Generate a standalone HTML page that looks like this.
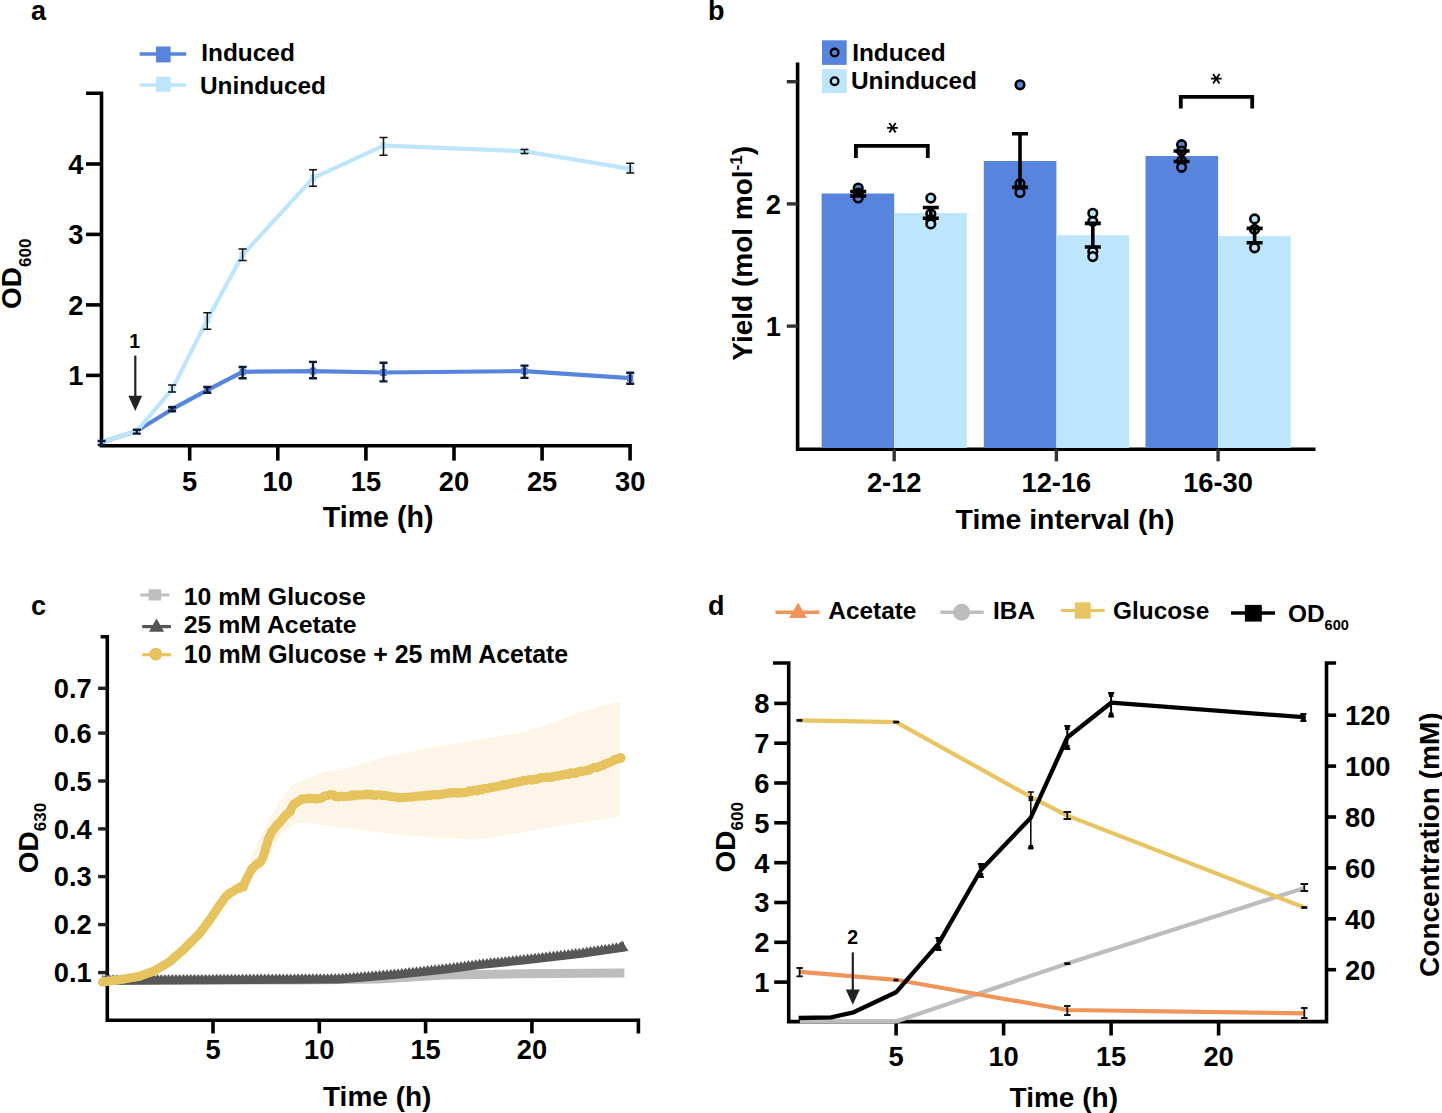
<!DOCTYPE html>
<html><head><meta charset="utf-8"><style>
html,body{margin:0;padding:0;background:#fff;width:1442px;height:1113px;overflow:hidden}
svg{display:block;font-family:"Liberation Sans",sans-serif}
</style></head><body>
<svg width="1442" height="1113" viewBox="0 0 1442 1113">
<text x="31.0" y="19.5" font-size="27" font-weight="bold" text-anchor="start" fill="#000" >a</text>
<path d="M86,93.2H101.5V445.8H630.1V460.6" stroke="#000" stroke-width="3.6" fill="none"/>
<line x1="86.0" y1="375.4" x2="101.5" y2="375.4" stroke="#000" stroke-width="3.6" stroke-linecap="butt"/>
<text x="83.5" y="385.2" font-size="27.3" font-weight="bold" text-anchor="end" fill="#000" >1</text>
<line x1="86.0" y1="304.9" x2="101.5" y2="304.9" stroke="#000" stroke-width="3.6" stroke-linecap="butt"/>
<text x="83.5" y="314.7" font-size="27.3" font-weight="bold" text-anchor="end" fill="#000" >2</text>
<line x1="86.0" y1="234.4" x2="101.5" y2="234.4" stroke="#000" stroke-width="3.6" stroke-linecap="butt"/>
<text x="83.5" y="244.2" font-size="27.3" font-weight="bold" text-anchor="end" fill="#000" >3</text>
<line x1="86.0" y1="164.0" x2="101.5" y2="164.0" stroke="#000" stroke-width="3.6" stroke-linecap="butt"/>
<text x="83.5" y="173.8" font-size="27.3" font-weight="bold" text-anchor="end" fill="#000" >4</text>
<line x1="189.7" y1="445.8" x2="189.7" y2="460.6" stroke="#000" stroke-width="3.6" stroke-linecap="butt"/>
<line x1="277.8" y1="445.8" x2="277.8" y2="460.6" stroke="#000" stroke-width="3.6" stroke-linecap="butt"/>
<line x1="365.9" y1="445.8" x2="365.9" y2="460.6" stroke="#000" stroke-width="3.6" stroke-linecap="butt"/>
<line x1="454.0" y1="445.8" x2="454.0" y2="460.6" stroke="#000" stroke-width="3.6" stroke-linecap="butt"/>
<line x1="542.1" y1="445.8" x2="542.1" y2="460.6" stroke="#000" stroke-width="3.6" stroke-linecap="butt"/>
<text x="189.7" y="491.2" font-size="27.3" font-weight="bold" text-anchor="middle" fill="#000" >5</text>
<text x="277.8" y="491.2" font-size="27.3" font-weight="bold" text-anchor="middle" fill="#000" >10</text>
<text x="365.9" y="491.2" font-size="27.3" font-weight="bold" text-anchor="middle" fill="#000" >15</text>
<text x="454.0" y="491.2" font-size="27.3" font-weight="bold" text-anchor="middle" fill="#000" >20</text>
<text x="542.1" y="491.2" font-size="27.3" font-weight="bold" text-anchor="middle" fill="#000" >25</text>
<text x="630.2" y="491.2" font-size="27.3" font-weight="bold" text-anchor="middle" fill="#000" >30</text>
<text x="322.8" y="526.6" font-size="28.6" font-weight="bold" text-anchor="start" fill="#000" >Time (h)</text>
<text transform="translate(21.3,309) rotate(-90)" font-size="28" font-weight="bold">OD<tspan font-size="17" dy="10">600</tspan></text>
<polyline points="101.6,442.3 136.8,431.0 172.1,409.2 207.3,390.1 242.6,371.8 313.0,371.1 383.5,372.5 524.5,371.1 630.2,378.2" fill="none" stroke="#5784dc" stroke-width="4.2" stroke-linejoin="round" stroke-linecap="butt"/>
<polyline points="101.6,442.3 136.8,431.0 172.1,389.4 207.3,319.7 242.6,254.9 313.0,178.1 383.5,145.7 524.5,151.3 630.2,168.9" fill="none" stroke="#bde6fd" stroke-width="4.2" stroke-linejoin="round" stroke-linecap="butt"/>
<rect x="168.9" y="405.7" width="6.4" height="7.0" fill="#5784dc"/>
<rect x="204.1" y="386.6" width="6.4" height="7.0" fill="#5784dc"/>
<rect x="239.4" y="368.3" width="6.4" height="7.0" fill="#5784dc"/>
<rect x="309.8" y="367.6" width="6.4" height="7.0" fill="#5784dc"/>
<rect x="380.3" y="369.0" width="6.4" height="7.0" fill="#5784dc"/>
<rect x="521.3" y="367.6" width="6.4" height="7.0" fill="#5784dc"/>
<rect x="627.0" y="374.7" width="6.4" height="7.0" fill="#5784dc"/>
<rect x="168.9" y="385.9" width="6.4" height="7.0" fill="#bde6fd"/>
<rect x="204.1" y="316.2" width="6.4" height="7.0" fill="#bde6fd"/>
<rect x="239.4" y="251.4" width="6.4" height="7.0" fill="#bde6fd"/>
<rect x="309.8" y="174.6" width="6.4" height="7.0" fill="#bde6fd"/>
<rect x="380.3" y="142.2" width="6.4" height="7.0" fill="#bde6fd"/>
<rect x="521.3" y="147.8" width="6.4" height="7.0" fill="#bde6fd"/>
<rect x="627.0" y="165.4" width="6.4" height="7.0" fill="#bde6fd"/>
<path d="M168.1,385.0H176.1M172.1,385.0V392.0M168.1,392.0H176.1" stroke="#111" stroke-width="1.5" fill="none"/>
<path d="M203.3,312.8H211.3M207.3,312.8V329.2M203.3,329.2H211.3" stroke="#111" stroke-width="1.5" fill="none"/>
<path d="M238.6,249.0H246.6M242.6,249.0V260.4M238.6,260.4H246.6" stroke="#111" stroke-width="1.5" fill="none"/>
<path d="M309.0,169.8H317.0M313.0,169.8V186.2M309.0,186.2H317.0" stroke="#111" stroke-width="1.5" fill="none"/>
<path d="M379.5,137.5H387.5M383.5,137.5V155.3M379.5,155.3H387.5" stroke="#111" stroke-width="1.5" fill="none"/>
<path d="M520.5,149.4H528.5M524.5,149.4V153.4M520.5,153.4H528.5" stroke="#111" stroke-width="1.5" fill="none"/>
<path d="M626.2,163.2H634.2M630.2,163.2V173.1M626.2,173.1H634.2" stroke="#111" stroke-width="1.5" fill="none"/>
<path d="M132.8,429.8H140.8M136.8,429.8V433.6M132.8,433.6H140.8" stroke="#0d1a3a" stroke-width="2.4" fill="none"/>
<path d="M168.1,407.2H176.1M172.1,407.2V411.0M168.1,411.0H176.1" stroke="#0d1a3a" stroke-width="2.4" fill="none"/>
<path d="M203.3,387.0H211.3M207.3,387.0V392.8M203.3,392.8H211.3" stroke="#0d1a3a" stroke-width="2.4" fill="none"/>
<path d="M238.6,366.9H246.6M242.6,366.9V378.2M238.6,378.2H246.6" stroke="#0d1a3a" stroke-width="2.4" fill="none"/>
<path d="M309.0,361.9H317.0M313.0,361.9V378.2M309.0,378.2H317.0" stroke="#0d1a3a" stroke-width="2.4" fill="none"/>
<path d="M379.5,362.8H387.5M383.5,362.8V381.4M379.5,381.4H387.5" stroke="#0d1a3a" stroke-width="2.4" fill="none"/>
<path d="M520.5,365.6H528.5M524.5,365.6V377.9M520.5,377.9H528.5" stroke="#0d1a3a" stroke-width="2.4" fill="none"/>
<path d="M626.2,372.7H634.2M630.2,372.7V383.8M626.2,383.8H634.2" stroke="#0d1a3a" stroke-width="2.4" fill="none"/>
<path d="M97.6,441.0H105.6M101.6,441.0V445.0M97.6,445.0H105.6" stroke="#0d1a3a" stroke-width="2.4" fill="none"/>
<text x="134.6" y="348.0" font-size="19.5" font-weight="bold" text-anchor="middle" fill="#000" >1</text>
<line x1="135.3" y1="355.6" x2="135.3" y2="398.0" stroke="#222" stroke-width="2.2" stroke-linecap="butt"/>
<polygon points="128.3,395.8 142.1,395.8 135.3,411.0" fill="#222"/>
<line x1="139.6" y1="54.0" x2="186.2" y2="54.0" stroke="#5784dc" stroke-width="3.6" stroke-linecap="butt"/>
<rect x="156.0" y="46.5" width="14.6" height="15.9" fill="#5784dc"/>
<text x="201.3" y="61.1" font-size="24.4" font-weight="bold" text-anchor="start" fill="#000" >Induced</text>
<line x1="139.6" y1="85.0" x2="186.2" y2="85.0" stroke="#bde6fd" stroke-width="3.6" stroke-linecap="butt"/>
<rect x="156.0" y="76.7" width="14.6" height="15.1" fill="#bde6fd"/>
<text x="200.0" y="93.8" font-size="24.4" font-weight="bold" text-anchor="start" fill="#000" >Uninduced</text>
<text x="708.0" y="19.5" font-size="27" font-weight="bold" text-anchor="start" fill="#000" >b</text>
<path d="M797.6,62.5V449.2H1315.5" stroke="#000" stroke-width="3.6" fill="none"/>
<line x1="786.8" y1="326.1" x2="797.5" y2="326.1" stroke="#333" stroke-width="3.4" stroke-linecap="butt"/>
<line x1="786.8" y1="203.9" x2="797.5" y2="203.9" stroke="#333" stroke-width="3.4" stroke-linecap="butt"/>
<line x1="786.8" y1="81.7" x2="797.5" y2="81.7" stroke="#333" stroke-width="3.4" stroke-linecap="butt"/>
<text x="781.0" y="335.9" font-size="27.3" font-weight="bold" text-anchor="end" fill="#000" >1</text>
<text x="781.0" y="213.7" font-size="27.3" font-weight="bold" text-anchor="end" fill="#000" >2</text>
<rect x="821.6" y="193.5" width="72.6" height="254.5" fill="#5784dc"/>
<rect x="894.2" y="213.0" width="72.6" height="235.0" fill="#bde6fd"/>
<rect x="983.8" y="161.0" width="72.6" height="287.0" fill="#5784dc"/>
<rect x="1056.4" y="235.2" width="72.6" height="212.8" fill="#bde6fd"/>
<rect x="1145.5" y="156.0" width="72.6" height="292.0" fill="#5784dc"/>
<rect x="1218.1" y="236.0" width="72.6" height="212.0" fill="#bde6fd"/>
<line x1="894.2" y1="449.2" x2="894.2" y2="461.3" stroke="#333" stroke-width="3.4" stroke-linecap="butt"/>
<text x="894.2" y="491.6" font-size="27.3" font-weight="bold" text-anchor="middle" fill="#000" >2-12</text>
<line x1="1056.4" y1="449.2" x2="1056.4" y2="461.3" stroke="#333" stroke-width="3.4" stroke-linecap="butt"/>
<text x="1056.4" y="491.6" font-size="27.3" font-weight="bold" text-anchor="middle" fill="#000" >12-16</text>
<line x1="1218.1" y1="449.2" x2="1218.1" y2="461.3" stroke="#333" stroke-width="3.4" stroke-linecap="butt"/>
<text x="1218.1" y="491.6" font-size="27.3" font-weight="bold" text-anchor="middle" fill="#000" >16-30</text>
<text x="955.6" y="528.5" font-size="28.4" font-weight="bold" text-anchor="start" fill="#000" >Time interval (h)</text>
<text transform="translate(751.5,360.7) rotate(-90)" font-size="28" font-weight="bold">Yield (mol mol<tspan font-size="17" dy="-10">-1</tspan><tspan dy="10">)</tspan></text>
<rect x="822.0" y="40.3" width="24.7" height="24.6" fill="#5784dc"/>
<circle cx="834.6" cy="52.5" r="3.8" fill="#5784dc" stroke="#000" stroke-width="2.4"/>
<rect x="822.0" y="69.2" width="24.7" height="23.9" fill="#bde6fd"/>
<circle cx="834.6" cy="81.2" r="3.8" fill="#bde6fd" stroke="#000" stroke-width="2.4"/>
<text x="852.2" y="61.1" font-size="24.4" font-weight="bold" text-anchor="start" fill="#000" >Induced</text>
<text x="851.0" y="89.3" font-size="24.4" font-weight="bold" text-anchor="start" fill="#000" >Uninduced</text>
<path d="M855.9,157.9V145.9H927.8V157.9" stroke="#000" stroke-width="3.8" fill="none"/>
<path d="M1180.8,108.5V96.8H1252.2V108.5" stroke="#000" stroke-width="3.8" fill="none"/>
<path d="M887.1,127.8H897.9M889.3,123.0L895.7,132.6M895.7,123.0L889.3,132.6" stroke="#000" stroke-width="1.8" fill="none"/>
<path d="M1210.9,78.7H1221.7M1213.1,73.9L1219.5,83.5M1219.5,73.9L1213.1,83.5" stroke="#000" stroke-width="1.8" fill="none"/>
<circle cx="858.2" cy="188.0" r="4.3" fill="#5784dc" stroke="#000" stroke-width="2.6"/>
<circle cx="858.2" cy="193.0" r="4.3" fill="#5784dc" stroke="#000" stroke-width="2.6"/>
<circle cx="858.2" cy="198.0" r="4.3" fill="#5784dc" stroke="#000" stroke-width="2.6"/>
<path d="M850.2,191.5H866.2M858.2,191.5V196.0M850.2,196.0H866.2" stroke="#000" stroke-width="3.6" fill="none"/>
<circle cx="930.8" cy="198.1" r="4.3" fill="#bde6fd" stroke="#000" stroke-width="2.6"/>
<circle cx="930.8" cy="213.8" r="4.3" fill="#bde6fd" stroke="#000" stroke-width="2.6"/>
<circle cx="930.8" cy="219.5" r="4.3" fill="#bde6fd" stroke="#000" stroke-width="2.6"/>
<circle cx="930.8" cy="223.9" r="4.3" fill="#bde6fd" stroke="#000" stroke-width="2.6"/>
<path d="M922.8,207.5H938.8M930.8,207.5V218.2M922.8,218.2H938.8" stroke="#000" stroke-width="3.6" fill="none"/>
<circle cx="1020.0" cy="84.8" r="4.3" fill="#5784dc" stroke="#000" stroke-width="2.6"/>
<circle cx="1020.0" cy="183.6" r="4.3" fill="#5784dc" stroke="#000" stroke-width="2.6"/>
<circle cx="1020.0" cy="192.5" r="4.3" fill="#5784dc" stroke="#000" stroke-width="2.6"/>
<path d="M1012.0,133.8H1028.0M1020.0,133.8V187.4M1012.0,187.4H1028.0" stroke="#000" stroke-width="3.6" fill="none"/>
<circle cx="1092.8" cy="213.3" r="4.3" fill="#bde6fd" stroke="#000" stroke-width="2.6"/>
<circle cx="1092.8" cy="221.4" r="4.3" fill="#bde6fd" stroke="#000" stroke-width="2.6"/>
<circle cx="1092.8" cy="251.6" r="4.3" fill="#bde6fd" stroke="#000" stroke-width="2.6"/>
<circle cx="1092.8" cy="256.6" r="4.3" fill="#bde6fd" stroke="#000" stroke-width="2.6"/>
<path d="M1084.8,223.4H1100.8M1092.8,223.4V247.0M1084.8,247.0H1100.8" stroke="#000" stroke-width="3.6" fill="none"/>
<circle cx="1181.6" cy="144.7" r="4.3" fill="#5784dc" stroke="#000" stroke-width="2.6"/>
<circle cx="1181.6" cy="151.0" r="4.3" fill="#5784dc" stroke="#000" stroke-width="2.6"/>
<circle cx="1181.6" cy="161.0" r="4.3" fill="#5784dc" stroke="#000" stroke-width="2.6"/>
<circle cx="1181.6" cy="167.3" r="4.3" fill="#5784dc" stroke="#000" stroke-width="2.6"/>
<path d="M1173.6,151.0H1189.6M1181.6,151.0V161.5M1173.6,161.5H1189.6" stroke="#000" stroke-width="3.6" fill="none"/>
<circle cx="1254.6" cy="218.9" r="4.3" fill="#bde6fd" stroke="#000" stroke-width="2.6"/>
<circle cx="1254.6" cy="229.4" r="4.3" fill="#bde6fd" stroke="#000" stroke-width="2.6"/>
<circle cx="1254.6" cy="247.8" r="4.3" fill="#bde6fd" stroke="#000" stroke-width="2.6"/>
<path d="M1246.6,228.4H1262.6M1254.6,228.4V242.8M1246.6,242.8H1262.6" stroke="#000" stroke-width="3.6" fill="none"/>
<text x="31.0" y="615.3" font-size="27" font-weight="bold" text-anchor="start" fill="#000" >c</text>
<path d="M100.6,636.7H107.3V1020.2H638.4V1033.4" stroke="#000" stroke-width="3.6" fill="none"/>
<line x1="98.1" y1="972.6" x2="107.3" y2="972.6" stroke="#222" stroke-width="3.4" stroke-linecap="butt"/>
<text x="91.8" y="982.2" font-size="27.3" font-weight="bold" text-anchor="end" fill="#000" >0.1</text>
<line x1="98.1" y1="924.6" x2="107.3" y2="924.6" stroke="#222" stroke-width="3.4" stroke-linecap="butt"/>
<text x="91.8" y="934.2" font-size="27.3" font-weight="bold" text-anchor="end" fill="#000" >0.2</text>
<line x1="98.1" y1="876.6" x2="107.3" y2="876.6" stroke="#222" stroke-width="3.4" stroke-linecap="butt"/>
<text x="91.8" y="886.2" font-size="27.3" font-weight="bold" text-anchor="end" fill="#000" >0.3</text>
<line x1="98.1" y1="828.9" x2="107.3" y2="828.9" stroke="#222" stroke-width="3.4" stroke-linecap="butt"/>
<text x="91.8" y="838.5" font-size="27.3" font-weight="bold" text-anchor="end" fill="#000" >0.4</text>
<line x1="98.1" y1="781.0" x2="107.3" y2="781.0" stroke="#222" stroke-width="3.4" stroke-linecap="butt"/>
<text x="91.8" y="790.6" font-size="27.3" font-weight="bold" text-anchor="end" fill="#000" >0.5</text>
<line x1="98.1" y1="733.1" x2="107.3" y2="733.1" stroke="#222" stroke-width="3.4" stroke-linecap="butt"/>
<text x="91.8" y="742.7" font-size="27.3" font-weight="bold" text-anchor="end" fill="#000" >0.6</text>
<line x1="98.1" y1="688.3" x2="107.3" y2="688.3" stroke="#222" stroke-width="3.4" stroke-linecap="butt"/>
<text x="91.8" y="697.9" font-size="27.3" font-weight="bold" text-anchor="end" fill="#000" >0.7</text>
<line x1="213.0" y1="1020.2" x2="213.0" y2="1033.4" stroke="#000" stroke-width="3.6" stroke-linecap="butt"/>
<text x="213.0" y="1058.8" font-size="27.3" font-weight="bold" text-anchor="middle" fill="#000" >5</text>
<line x1="319.3" y1="1020.2" x2="319.3" y2="1033.4" stroke="#000" stroke-width="3.6" stroke-linecap="butt"/>
<text x="319.3" y="1058.8" font-size="27.3" font-weight="bold" text-anchor="middle" fill="#000" >10</text>
<line x1="425.6" y1="1020.2" x2="425.6" y2="1033.4" stroke="#000" stroke-width="3.6" stroke-linecap="butt"/>
<text x="425.6" y="1058.8" font-size="27.3" font-weight="bold" text-anchor="middle" fill="#000" >15</text>
<line x1="531.9" y1="1020.2" x2="531.9" y2="1033.4" stroke="#000" stroke-width="3.6" stroke-linecap="butt"/>
<text x="531.9" y="1058.8" font-size="27.3" font-weight="bold" text-anchor="middle" fill="#000" >20</text>
<text x="323.0" y="1105.5" font-size="28" font-weight="bold" text-anchor="start" fill="#000" >Time (h)</text>
<text transform="translate(38,873.2) rotate(-90)" font-size="28" font-weight="bold">OD<tspan font-size="17" dy="8">630</tspan></text>
<polygon points="250.7,857.3 260.0,838.0 269.3,819.0 280.0,801.0 292.0,785.0 323.8,771.4 340.0,770.0 387.5,756.2 430.0,748.0 466.0,741.8 523.8,731.8 550.0,724.0 581.3,711.6 600.0,706.0 620.0,701.6 620.0,816.6 600.0,820.0 552.5,826.6 520.0,833.0 480.6,839.6 440.0,838.0 399.0,835.0 370.0,831.0 340.0,827.5 309.4,822.5 296.0,823.2 279.6,836.7 264.0,865.6 256.0,875.0" fill="#fdf5e7"/>
<polyline points="102.0,980.0 300.0,980.0 378.0,979.0 444.5,975.0 520.0,973.8 624.4,973.0" fill="none" stroke="#bdbdbd" stroke-width="9" stroke-linejoin="round" stroke-linecap="butt"/>
<polygon points="102.0,974.6 103.8,977.4 105.7,974.6 107.5,977.4 109.4,974.6 111.2,977.3 113.1,974.5 114.9,977.3 116.8,974.5 118.6,977.3 120.5,974.5 122.3,977.3 124.2,974.5 126.0,977.2 127.9,974.4 129.7,977.2 131.6,974.4 133.4,977.2 135.3,974.4 137.1,977.2 139.0,974.4 140.8,977.1 142.7,974.3 144.5,977.1 146.4,974.3 148.2,977.1 150.1,974.3 151.9,977.1 153.8,974.2 155.6,977.0 157.5,974.2 159.3,977.0 161.2,974.2 163.0,977.0 164.9,974.2 166.7,977.0 168.6,974.1 170.4,976.9 172.3,974.1 174.1,976.9 176.0,974.1 177.8,976.9 179.7,974.1 181.5,976.9 183.4,974.1 185.2,976.8 187.1,974.0 188.9,976.8 190.8,974.0 192.6,976.8 194.5,974.0 196.3,976.8 198.2,974.0 200.0,976.7 201.9,973.9 203.7,976.7 205.6,973.9 207.4,976.7 209.3,973.9 211.1,976.7 213.0,973.9 214.8,976.6 216.7,973.8 218.5,976.6 220.4,973.8 222.2,976.6 224.1,973.8 225.9,976.6 227.8,973.8 229.6,976.5 231.5,973.7 233.3,976.5 235.2,973.7 237.0,976.5 238.9,973.7 240.7,976.5 242.6,973.6 244.4,976.4 246.3,973.6 248.1,976.4 250.0,973.6 251.8,976.4 253.7,973.6 255.5,976.4 257.4,973.6 259.2,976.3 261.1,973.5 262.9,976.3 264.8,973.5 266.6,976.3 268.5,973.5 270.3,976.3 272.2,973.5 274.0,976.3 275.9,973.5 277.7,976.2 279.6,973.4 281.4,976.2 283.3,973.4 285.1,976.2 287.0,973.4 288.8,976.2 290.7,973.4 292.5,976.2 294.4,973.4 296.2,976.1 298.1,973.3 300.0,976.1 301.8,973.3 303.7,976.1 305.5,973.3 307.4,976.1 309.2,973.3 311.1,976.1 312.9,973.2 314.8,976.0 316.6,973.2 318.5,976.0 320.3,973.2 322.2,976.0 324.0,973.2 325.9,976.0 327.7,973.2 329.6,976.0 331.4,973.1 333.3,975.9 335.1,973.1 337.0,975.9 338.8,973.1 340.7,975.8 342.5,972.8 344.4,975.5 346.2,972.5 348.1,975.2 349.9,972.3 351.8,974.9 353.6,972.0 355.5,974.6 357.3,971.7 359.2,974.3 361.0,971.4 362.9,974.1 364.7,971.1 366.6,973.8 368.4,970.8 370.3,973.4 372.1,970.5 374.0,973.1 375.8,970.2 377.7,972.8 379.5,969.9 381.4,972.5 383.2,969.5 385.1,972.2 386.9,969.2 388.8,971.9 390.6,968.9 392.5,971.5 394.3,968.6 396.2,971.2 398.0,968.3 399.9,970.9 401.7,967.9 403.6,970.5 405.4,967.5 407.3,970.1 409.1,967.1 411.0,969.7 412.8,966.7 414.7,969.3 416.5,966.3 418.4,968.9 420.2,965.9 422.1,968.5 423.9,965.5 425.8,968.1 427.6,965.1 429.5,967.7 431.3,964.7 433.2,967.3 435.0,964.3 436.9,966.9 438.7,963.9 440.6,966.5 442.4,963.5 444.3,966.1 446.1,963.1 448.0,965.6 449.8,962.6 451.7,965.2 453.5,962.1 455.4,964.7 457.2,961.6 459.1,964.2 460.9,961.1 462.8,963.7 464.6,960.6 466.5,963.2 468.3,960.1 470.2,962.7 472.0,959.7 473.9,962.2 475.7,959.2 477.6,961.7 479.4,958.7 481.3,961.3 483.1,958.3 485.0,960.9 486.8,957.9 488.7,960.5 490.5,957.5 492.4,960.1 494.2,957.1 496.1,959.7 497.9,956.7 499.8,959.4 501.6,956.4 503.5,959.0 505.3,956.0 507.2,958.6 509.0,955.6 510.9,958.2 512.7,955.2 514.6,957.8 516.4,954.8 518.3,957.4 520.1,954.5 522.0,957.1 523.8,954.1 525.7,956.7 527.5,953.6 529.4,956.2 531.2,953.2 533.1,955.8 534.9,952.8 536.8,955.4 538.6,952.4 540.5,954.9 542.3,951.9 544.2,954.5 546.0,951.5 547.9,954.1 549.7,951.1 551.6,953.7 553.4,950.7 555.3,953.2 557.1,950.2 559.0,952.8 560.8,949.8 562.7,952.4 564.5,949.4 566.4,952.0 568.2,949.0 570.1,951.5 571.9,948.5 573.8,951.1 575.6,948.1 577.5,950.7 579.3,947.7 581.2,950.2 583.0,947.2 584.9,949.7 586.7,946.6 588.6,949.1 590.4,946.1 592.3,948.6 594.1,945.5 596.0,948.1 597.8,945.0 599.7,947.5 601.5,944.4 603.4,947.0 605.2,943.9 607.1,946.4 608.9,943.4 610.8,945.9 612.6,942.8 614.5,945.3 616.3,942.3 618.2,944.8 620.0,941.7 621.9,944.3 623.7,941.2 625.0,951.4 580.0,958.0 523.5,964.5 480.0,969.0 444.5,973.7 400.0,978.5 365.0,981.5 339.0,983.5 250.0,984.0 102.0,985.0" fill="#575757"/>
<polygon points="616.0,952.0 628.5,951.0 622.0,940.5" fill="#575757"/>
<polyline points="102.5,982.0 104.0,981.8 119.8,979.8 139.5,976.3 154.3,970.9 169.2,962.0 184.0,949.2 198.8,934.3 208.7,921.5 218.6,906.7 225.5,896.8 230.0,893.5 236.2,889.3 243.4,886.2 248.1,875.9 252.7,867.6 261.0,861.4 263.1,857.3 266.2,846.0 269.8,835.6 273.4,829.4 281.7,820.1 289.9,810.8 294.0,803.6 302.3,799.5 312.6,798.4 319.9,798.4 330.0,794.3 338.1,796.6 360.0,795.0 380.0,795.0 400.0,797.9 430.0,795.0 466.3,792.1 495.0,787.0 523.8,780.6 550.0,777.0 581.3,771.5 600.0,766.5 620.0,757.8" fill="none" stroke="#e6c35e" stroke-width="8.4" stroke-linejoin="round" stroke-linecap="butt"/>
<g fill="#e6c35e"><circle cx="102.5" cy="982.0" r="4.5"/><circle cx="104.0" cy="981.8" r="4.5"/><circle cx="106.6" cy="981.5" r="4.5"/><circle cx="109.3" cy="981.1" r="4.5"/><circle cx="111.9" cy="980.8" r="4.5"/><circle cx="114.5" cy="980.5" r="4.5"/><circle cx="117.2" cy="980.1" r="4.5"/><circle cx="119.8" cy="979.8" r="4.5"/><circle cx="122.6" cy="979.3" r="4.5"/><circle cx="125.4" cy="978.8" r="4.5"/><circle cx="128.2" cy="978.3" r="4.5"/><circle cx="131.1" cy="977.8" r="4.5"/><circle cx="133.9" cy="977.3" r="4.5"/><circle cx="136.7" cy="976.8" r="4.5"/><circle cx="139.5" cy="976.3" r="4.5"/><circle cx="142.0" cy="975.4" r="4.5"/><circle cx="144.4" cy="974.5" r="4.5"/><circle cx="146.9" cy="973.6" r="4.5"/><circle cx="149.4" cy="972.7" r="4.5"/><circle cx="151.8" cy="971.8" r="4.5"/><circle cx="154.3" cy="970.9" r="4.5"/><circle cx="156.8" cy="969.4" r="4.5"/><circle cx="159.3" cy="967.9" r="4.5"/><circle cx="161.8" cy="966.5" r="4.5"/><circle cx="164.2" cy="965.0" r="4.5"/><circle cx="166.7" cy="963.5" r="4.5"/><circle cx="169.2" cy="962.0" r="4.5"/><circle cx="171.3" cy="960.2" r="4.5"/><circle cx="173.4" cy="958.3" r="4.5"/><circle cx="175.5" cy="956.5" r="4.5"/><circle cx="177.7" cy="954.7" r="4.5"/><circle cx="179.8" cy="952.9" r="4.5"/><circle cx="181.9" cy="951.0" r="4.5"/><circle cx="184.0" cy="949.2" r="4.5"/><circle cx="185.8" cy="947.3" r="4.5"/><circle cx="187.7" cy="945.5" r="4.5"/><circle cx="189.6" cy="943.6" r="4.5"/><circle cx="191.4" cy="941.8" r="4.5"/><circle cx="193.2" cy="939.9" r="4.5"/><circle cx="195.1" cy="938.0" r="4.5"/><circle cx="197.0" cy="936.2" r="4.5"/><circle cx="198.8" cy="934.3" r="4.5"/><circle cx="200.5" cy="932.2" r="4.5"/><circle cx="202.1" cy="930.0" r="4.5"/><circle cx="203.8" cy="927.9" r="4.5"/><circle cx="205.4" cy="925.8" r="4.5"/><circle cx="207.0" cy="923.6" r="4.5"/><circle cx="208.7" cy="921.5" r="4.5"/><circle cx="210.3" cy="919.0" r="4.5"/><circle cx="212.0" cy="916.6" r="4.5"/><circle cx="213.6" cy="914.1" r="4.5"/><circle cx="215.3" cy="911.6" r="4.5"/><circle cx="216.9" cy="909.2" r="4.5"/><circle cx="218.6" cy="906.7" r="4.5"/><circle cx="220.3" cy="904.2" r="4.5"/><circle cx="222.1" cy="901.8" r="4.5"/><circle cx="223.8" cy="899.3" r="4.5"/><circle cx="225.5" cy="896.8" r="4.5"/><circle cx="227.8" cy="895.1" r="4.5"/><circle cx="230.1" cy="892.7" r="4.5"/><circle cx="233.2" cy="891.3" r="4.5"/><circle cx="236.3" cy="889.0" r="4.5"/><circle cx="238.8" cy="888.7" r="4.5"/><circle cx="240.6" cy="886.4" r="4.5"/><circle cx="243.5" cy="887.0" r="4.5"/><circle cx="244.4" cy="883.5" r="4.5"/><circle cx="245.8" cy="880.7" r="4.5"/><circle cx="246.8" cy="878.1" r="4.5"/><circle cx="248.0" cy="876.1" r="4.5"/><circle cx="249.5" cy="872.9" r="4.5"/><circle cx="251.4" cy="869.5" r="4.5"/><circle cx="252.8" cy="868.0" r="4.5"/><circle cx="255.3" cy="865.0" r="4.5"/><circle cx="258.5" cy="863.0" r="4.5"/><circle cx="260.7" cy="861.3" r="4.5"/><circle cx="263.3" cy="856.6" r="4.5"/><circle cx="263.7" cy="854.2" r="4.5"/><circle cx="264.9" cy="851.5" r="4.5"/><circle cx="265.7" cy="848.2" r="4.5"/><circle cx="266.1" cy="846.3" r="4.5"/><circle cx="267.4" cy="843.3" r="4.5"/><circle cx="267.8" cy="840.1" r="4.5"/><circle cx="268.9" cy="837.6" r="4.5"/><circle cx="270.0" cy="836.2" r="4.5"/><circle cx="271.3" cy="832.1" r="4.5"/><circle cx="273.6" cy="829.7" r="4.5"/><circle cx="275.7" cy="826.8" r="4.5"/><circle cx="277.3" cy="824.4" r="4.5"/><circle cx="279.9" cy="822.0" r="4.5"/><circle cx="281.6" cy="820.0" r="4.5"/><circle cx="283.7" cy="817.6" r="4.5"/><circle cx="286.1" cy="814.8" r="4.5"/><circle cx="287.5" cy="813.9" r="4.5"/><circle cx="290.2" cy="811.7" r="4.5"/><circle cx="291.2" cy="809.2" r="4.5"/><circle cx="293.0" cy="805.5" r="4.5"/><circle cx="294.2" cy="804.2" r="4.5"/><circle cx="296.9" cy="802.3" r="4.5"/><circle cx="299.4" cy="800.6" r="4.5"/><circle cx="302.1" cy="798.7" r="4.5"/><circle cx="305.8" cy="798.7" r="4.5"/><circle cx="309.4" cy="797.9" r="4.5"/><circle cx="312.9" cy="798.7" r="4.5"/><circle cx="316.6" cy="799.1" r="4.5"/><circle cx="320.2" cy="798.5" r="4.5"/><circle cx="322.0" cy="797.8" r="4.5"/><circle cx="324.7" cy="796.0" r="4.5"/><circle cx="327.6" cy="795.4" r="4.5"/><circle cx="329.9" cy="795.1" r="4.5"/><circle cx="332.8" cy="794.8" r="4.5"/><circle cx="335.2" cy="796.5" r="4.5"/><circle cx="338.1" cy="797.1" r="4.5"/><circle cx="340.7" cy="795.9" r="4.5"/><circle cx="343.6" cy="796.8" r="4.5"/><circle cx="346.0" cy="796.5" r="4.5"/><circle cx="349.4" cy="796.4" r="4.5"/><circle cx="352.0" cy="794.7" r="4.5"/><circle cx="354.6" cy="796.1" r="4.5"/><circle cx="356.9" cy="794.8" r="4.5"/><circle cx="359.8" cy="795.0" r="4.5"/><circle cx="362.8" cy="795.0" r="4.5"/><circle cx="365.9" cy="794.1" r="4.5"/><circle cx="368.2" cy="794.3" r="4.5"/><circle cx="371.1" cy="794.2" r="4.5"/><circle cx="374.7" cy="795.6" r="4.5"/><circle cx="376.8" cy="795.0" r="4.5"/><circle cx="379.9" cy="794.7" r="4.5"/><circle cx="382.7" cy="795.7" r="4.5"/><circle cx="385.8" cy="795.6" r="4.5"/><circle cx="388.3" cy="795.9" r="4.5"/><circle cx="391.1" cy="796.8" r="4.5"/><circle cx="394.5" cy="796.9" r="4.5"/><circle cx="396.8" cy="796.9" r="4.5"/><circle cx="399.9" cy="798.1" r="4.5"/><circle cx="403.0" cy="797.4" r="4.5"/><circle cx="405.7" cy="797.6" r="4.5"/><circle cx="408.1" cy="796.9" r="4.5"/><circle cx="410.9" cy="797.2" r="4.5"/><circle cx="413.6" cy="796.9" r="4.5"/><circle cx="416.3" cy="795.9" r="4.5"/><circle cx="419.1" cy="796.4" r="4.5"/><circle cx="421.5" cy="795.7" r="4.5"/><circle cx="424.5" cy="796.2" r="4.5"/><circle cx="427.6" cy="795.0" r="4.5"/><circle cx="430.3" cy="795.5" r="4.5"/><circle cx="432.4" cy="794.7" r="4.5"/><circle cx="434.9" cy="795.1" r="4.5"/><circle cx="437.9" cy="795.1" r="4.5"/><circle cx="440.6" cy="794.5" r="4.5"/><circle cx="443.2" cy="794.1" r="4.5"/><circle cx="445.2" cy="793.9" r="4.5"/><circle cx="447.8" cy="792.9" r="4.5"/><circle cx="451.0" cy="792.5" r="4.5"/><circle cx="453.0" cy="792.4" r="4.5"/><circle cx="456.2" cy="792.4" r="4.5"/><circle cx="458.1" cy="793.3" r="4.5"/><circle cx="460.8" cy="793.1" r="4.5"/><circle cx="463.8" cy="792.9" r="4.5"/><circle cx="466.7" cy="792.2" r="4.5"/><circle cx="469.1" cy="790.8" r="4.5"/><circle cx="471.7" cy="791.2" r="4.5"/><circle cx="474.3" cy="790.0" r="4.5"/><circle cx="476.9" cy="791.0" r="4.5"/><circle cx="479.0" cy="789.5" r="4.5"/><circle cx="482.0" cy="789.9" r="4.5"/><circle cx="484.4" cy="788.3" r="4.5"/><circle cx="487.0" cy="788.6" r="4.5"/><circle cx="490.0" cy="787.7" r="4.5"/><circle cx="492.3" cy="787.3" r="4.5"/><circle cx="494.9" cy="786.9" r="4.5"/><circle cx="497.3" cy="786.4" r="4.5"/><circle cx="500.6" cy="785.7" r="4.5"/><circle cx="503.1" cy="784.6" r="4.5"/><circle cx="505.6" cy="785.1" r="4.5"/><circle cx="508.2" cy="784.1" r="4.5"/><circle cx="510.7" cy="783.8" r="4.5"/><circle cx="513.6" cy="782.3" r="4.5"/><circle cx="515.6" cy="782.8" r="4.5"/><circle cx="518.9" cy="781.8" r="4.5"/><circle cx="521.1" cy="781.6" r="4.5"/><circle cx="523.5" cy="780.2" r="4.5"/><circle cx="526.2" cy="780.4" r="4.5"/><circle cx="528.9" cy="779.4" r="4.5"/><circle cx="531.8" cy="780.3" r="4.5"/><circle cx="534.1" cy="779.5" r="4.5"/><circle cx="536.8" cy="779.4" r="4.5"/><circle cx="539.6" cy="778.0" r="4.5"/><circle cx="541.9" cy="777.2" r="4.5"/><circle cx="544.7" cy="777.5" r="4.5"/><circle cx="547.1" cy="777.1" r="4.5"/><circle cx="549.9" cy="777.5" r="4.5"/><circle cx="552.3" cy="777.4" r="4.5"/><circle cx="555.2" cy="776.3" r="4.5"/><circle cx="557.8" cy="776.2" r="4.5"/><circle cx="560.7" cy="775.3" r="4.5"/><circle cx="563.0" cy="775.1" r="4.5"/><circle cx="565.9" cy="774.1" r="4.5"/><circle cx="568.4" cy="774.6" r="4.5"/><circle cx="570.8" cy="772.8" r="4.5"/><circle cx="573.3" cy="773.3" r="4.5"/><circle cx="576.2" cy="773.2" r="4.5"/><circle cx="579.0" cy="771.5" r="4.5"/><circle cx="581.1" cy="771.1" r="4.5"/><circle cx="583.7" cy="771.2" r="4.5"/><circle cx="586.9" cy="770.8" r="4.5"/><circle cx="589.1" cy="770.0" r="4.5"/><circle cx="591.8" cy="768.5" r="4.5"/><circle cx="594.8" cy="767.2" r="4.5"/><circle cx="597.0" cy="767.8" r="4.5"/><circle cx="599.8" cy="766.2" r="4.5"/><circle cx="602.6" cy="765.7" r="4.5"/><circle cx="604.6" cy="764.0" r="4.5"/><circle cx="607.4" cy="763.2" r="4.5"/><circle cx="609.8" cy="762.3" r="4.5"/><circle cx="612.9" cy="760.9" r="4.5"/><circle cx="615.0" cy="759.3" r="4.5"/><circle cx="617.3" cy="759.2" r="4.5"/></g>
<circle cx="620.6" cy="758.0" r="5" fill="#e6c35e" stroke="none" stroke-width="0"/>
<line x1="140.3" y1="595.0" x2="169.4" y2="595.0" stroke="#bfbfbf" stroke-width="3.0" stroke-linecap="butt"/>
<rect x="148.6" y="589.2" width="12.5" height="11.3" fill="#bfbfbf"/>
<text x="183.8" y="605.0" font-size="24.8" font-weight="bold" text-anchor="start" fill="#000" >10 mM Glucose</text>
<line x1="142.2" y1="626.6" x2="170.9" y2="626.6" stroke="#555" stroke-width="3.2" stroke-linecap="butt"/>
<polygon points="149.0,631.8 164.1,631.8 156.5,618.5" fill="#555"/>
<text x="183.8" y="633.1" font-size="24.8" font-weight="bold" text-anchor="start" fill="#000" >25 mM Acetate</text>
<line x1="142.2" y1="654.7" x2="170.9" y2="654.7" stroke="#e6c35e" stroke-width="3.2" stroke-linecap="butt"/>
<circle cx="155.8" cy="654.1" r="6.4" fill="#e6c35e" stroke="none" stroke-width="0"/>
<text x="183.8" y="662.7" font-size="24.9" font-weight="bold" text-anchor="start" fill="#000" >10 mM Glucose + 25 mM Acetate</text>
<text x="708.0" y="615.2" font-size="27" font-weight="bold" text-anchor="start" fill="#000" >d</text>
<path d="M773,663H788.7V1021.6H1326.5V663H1336.1" stroke="#000" stroke-width="3.6" fill="none"/>
<line x1="774.2" y1="982.1" x2="788.7" y2="982.1" stroke="#000" stroke-width="3.6" stroke-linecap="butt"/>
<text x="769.5" y="991.9" font-size="27.3" font-weight="bold" text-anchor="end" fill="#000" >1</text>
<line x1="774.2" y1="942.3" x2="788.7" y2="942.3" stroke="#000" stroke-width="3.6" stroke-linecap="butt"/>
<text x="769.5" y="952.1" font-size="27.3" font-weight="bold" text-anchor="end" fill="#000" >2</text>
<line x1="774.2" y1="902.5" x2="788.7" y2="902.5" stroke="#000" stroke-width="3.6" stroke-linecap="butt"/>
<text x="769.5" y="912.3" font-size="27.3" font-weight="bold" text-anchor="end" fill="#000" >3</text>
<line x1="774.2" y1="862.7" x2="788.7" y2="862.7" stroke="#000" stroke-width="3.6" stroke-linecap="butt"/>
<text x="769.5" y="872.5" font-size="27.3" font-weight="bold" text-anchor="end" fill="#000" >4</text>
<line x1="774.2" y1="822.8" x2="788.7" y2="822.8" stroke="#000" stroke-width="3.6" stroke-linecap="butt"/>
<text x="769.5" y="832.6" font-size="27.3" font-weight="bold" text-anchor="end" fill="#000" >5</text>
<line x1="774.2" y1="783.0" x2="788.7" y2="783.0" stroke="#000" stroke-width="3.6" stroke-linecap="butt"/>
<text x="769.5" y="792.8" font-size="27.3" font-weight="bold" text-anchor="end" fill="#000" >6</text>
<line x1="774.2" y1="743.2" x2="788.7" y2="743.2" stroke="#000" stroke-width="3.6" stroke-linecap="butt"/>
<text x="769.5" y="753.0" font-size="27.3" font-weight="bold" text-anchor="end" fill="#000" >7</text>
<line x1="774.2" y1="703.4" x2="788.7" y2="703.4" stroke="#000" stroke-width="3.6" stroke-linecap="butt"/>
<text x="769.5" y="713.2" font-size="27.3" font-weight="bold" text-anchor="end" fill="#000" >8</text>
<line x1="896.1" y1="1021.6" x2="896.1" y2="1035.5" stroke="#000" stroke-width="3.6" stroke-linecap="butt"/>
<text x="896.1" y="1066.0" font-size="27.3" font-weight="bold" text-anchor="middle" fill="#000" >5</text>
<line x1="1003.6" y1="1021.6" x2="1003.6" y2="1035.5" stroke="#000" stroke-width="3.6" stroke-linecap="butt"/>
<text x="1003.6" y="1066.0" font-size="27.3" font-weight="bold" text-anchor="middle" fill="#000" >10</text>
<line x1="1111.1" y1="1021.6" x2="1111.1" y2="1035.5" stroke="#000" stroke-width="3.6" stroke-linecap="butt"/>
<text x="1111.1" y="1066.0" font-size="27.3" font-weight="bold" text-anchor="middle" fill="#000" >15</text>
<line x1="1218.6" y1="1021.6" x2="1218.6" y2="1035.5" stroke="#000" stroke-width="3.6" stroke-linecap="butt"/>
<text x="1218.6" y="1066.0" font-size="27.3" font-weight="bold" text-anchor="middle" fill="#000" >20</text>
<line x1="1326.5" y1="969.7" x2="1336.1" y2="969.7" stroke="#000" stroke-width="3.6" stroke-linecap="butt"/>
<text x="1345.0" y="979.5" font-size="27.3" font-weight="bold" text-anchor="start" fill="#000" >20</text>
<line x1="1326.5" y1="918.8" x2="1336.1" y2="918.8" stroke="#000" stroke-width="3.6" stroke-linecap="butt"/>
<text x="1345.0" y="928.6" font-size="27.3" font-weight="bold" text-anchor="start" fill="#000" >40</text>
<line x1="1326.5" y1="867.9" x2="1336.1" y2="867.9" stroke="#000" stroke-width="3.6" stroke-linecap="butt"/>
<text x="1345.0" y="877.7" font-size="27.3" font-weight="bold" text-anchor="start" fill="#000" >60</text>
<line x1="1326.5" y1="817.0" x2="1336.1" y2="817.0" stroke="#000" stroke-width="3.6" stroke-linecap="butt"/>
<text x="1345.0" y="826.8" font-size="27.3" font-weight="bold" text-anchor="start" fill="#000" >80</text>
<line x1="1326.5" y1="766.1" x2="1336.1" y2="766.1" stroke="#000" stroke-width="3.6" stroke-linecap="butt"/>
<text x="1345.0" y="775.9" font-size="27.3" font-weight="bold" text-anchor="start" fill="#000" >100</text>
<line x1="1326.5" y1="715.2" x2="1336.1" y2="715.2" stroke="#000" stroke-width="3.6" stroke-linecap="butt"/>
<text x="1345.0" y="725.0" font-size="27.3" font-weight="bold" text-anchor="start" fill="#000" >120</text>
<text x="1009.6" y="1107.0" font-size="28" font-weight="bold" text-anchor="start" fill="#000" >Time (h)</text>
<text transform="translate(735,872.5) rotate(-90)" font-size="28" font-weight="bold">OD<tspan font-size="17" dy="8">600</tspan></text>
<text transform="translate(1438.9,976.9) rotate(-90)" font-size="28" font-weight="bold">Concentration (mM)</text>
<polyline points="799.9,1021.5 896.0,1021.5 1067.3,963.5 1304.3,888.0" fill="none" stroke="#bdbdbd" stroke-width="4.2" stroke-linejoin="round" stroke-linecap="butt"/>
<polyline points="799.9,971.8 896.0,979.8 1067.3,1010.0 1304.3,1013.4" fill="none" stroke="#f0955a" stroke-width="4.2" stroke-linejoin="round" stroke-linecap="butt"/>
<polyline points="799.4,720.4 896.2,722.1 1030.8,796.9 1067.3,815.6 1304.3,907.5" fill="none" stroke="#e8c462" stroke-width="4.2" stroke-linejoin="round" stroke-linecap="butt"/>
<polyline points="798.6,1018.0 831.1,1017.3 853.6,1012.3 896.0,992.3 938.5,943.6 980.9,870.0 1030.8,817.7 1067.3,737.5 1111.1,702.7 1303.4,717.2" fill="none" stroke="#000" stroke-width="4.3" stroke-linejoin="round" stroke-linecap="butt"/>
<path d="M1027.8,792.0H1033.8M1030.8,792.0V848.0M1027.8,848.0H1033.8" stroke="#000" stroke-width="1.5" fill="none"/>
<rect x="1028.6" y="796.0" width="4.4" height="5.0" fill="#000"/>
<rect x="1028.6" y="845.0" width="4.4" height="4.5" fill="#000"/>
<path d="M1064.3,726.0H1070.3M1067.3,726.0V749.0M1064.3,749.0H1070.3" stroke="#000" stroke-width="2.0" fill="none"/>
<rect x="1065.0" y="725.5" width="4.6" height="4.5" fill="#000"/>
<rect x="1065.0" y="745.0" width="4.6" height="4.5" fill="#000"/>
<path d="M1108.1,692.9H1114.1M1111.1,692.9V716.6M1108.1,716.6H1114.1" stroke="#000" stroke-width="2.0" fill="none"/>
<rect x="1108.8" y="692.4" width="4.6" height="4.5" fill="#000"/>
<rect x="1108.8" y="712.6" width="4.6" height="4.5" fill="#000"/>
<path d="M977.9,864.0H983.9M980.9,864.0V877.0M977.9,877.0H983.9" stroke="#000" stroke-width="2.0" fill="none"/>
<rect x="978.6" y="863.5" width="4.6" height="4.5" fill="#000"/>
<rect x="978.6" y="873.0" width="4.6" height="4.5" fill="#000"/>
<path d="M935.5,938.0H941.5M938.5,938.0V950.0M935.5,950.0H941.5" stroke="#000" stroke-width="2.0" fill="none"/>
<rect x="936.2" y="937.5" width="4.6" height="4.5" fill="#000"/>
<rect x="936.2" y="946.0" width="4.6" height="4.5" fill="#000"/>
<path d="M1300.4,714.0H1306.4M1303.4,714.0V721.0M1300.4,721.0H1306.4" stroke="#000" stroke-width="2.0" fill="none"/>
<rect x="1301.1" y="713.5" width="4.6" height="4.5" fill="#000"/>
<rect x="1301.1" y="717.0" width="4.6" height="4.5" fill="#000"/>
<path d="M796.4,968.0H802.8M799.6,968.0V976.4M796.4,976.4H802.8" stroke="#111" stroke-width="1.8" fill="none"/>
<path d="M1064.1,1006.0H1070.5M1067.3,1006.0V1015.0M1064.1,1015.0H1070.5" stroke="#111" stroke-width="1.8" fill="none"/>
<path d="M1301.1,1008.0H1307.5M1304.3,1008.0V1018.0M1301.1,1018.0H1307.5" stroke="#111" stroke-width="1.8" fill="none"/>
<rect x="893.5" y="978.8" width="5.0" height="2.6" fill="#000"/>
<path d="M1300.5,884.0H1308.1M1304.3,884.0V891.0M1300.5,891.0H1308.1" stroke="#111" stroke-width="1.8" fill="none"/>
<rect x="1064.3" y="962.3" width="6.0" height="2.6" fill="#000"/>
<path d="M1063.5,812.0H1071.1M1067.3,812.0V819.0M1063.5,819.0H1071.1" stroke="#111" stroke-width="1.8" fill="none"/>
<rect x="796.4" y="719.1" width="6.0" height="2.6" fill="#000"/>
<rect x="893.2" y="720.8" width="6.0" height="2.6" fill="#000"/>
<rect x="1301.3" y="906.2" width="6.0" height="2.6" fill="#000"/>
<text x="852.8" y="943.6" font-size="19.5" font-weight="bold" text-anchor="middle" fill="#000" >2</text>
<line x1="852.8" y1="952.4" x2="852.8" y2="992.0" stroke="#222" stroke-width="2.2" stroke-linecap="butt"/>
<polygon points="845.8,989.5 859.8,989.5 852.8,1004.8" fill="#222"/>
<line x1="775.5" y1="612.2" x2="819.5" y2="612.2" stroke="#f0955a" stroke-width="3.6" stroke-linecap="butt"/>
<polygon points="789.0,618.0 807.0,618.0 798.1,602.5" fill="#f0955a"/>
<text x="828.3" y="619.0" font-size="24.4" font-weight="bold" text-anchor="start" fill="#000" >Acetate</text>
<line x1="940.3" y1="612.2" x2="983.8" y2="612.2" stroke="#bdbdbd" stroke-width="3.6" stroke-linecap="butt"/>
<circle cx="961.6" cy="612.2" r="8.5" fill="#bdbdbd" stroke="none" stroke-width="0"/>
<text x="993.0" y="619.0" font-size="24.4" font-weight="bold" text-anchor="start" fill="#000" >IBA</text>
<line x1="1060.9" y1="610.5" x2="1104.7" y2="610.5" stroke="#e8c462" stroke-width="3.2" stroke-linecap="butt"/>
<rect x="1074.8" y="602.3" width="15.9" height="16.4" fill="#e8c462"/>
<text x="1113.0" y="619.0" font-size="24.4" font-weight="bold" text-anchor="start" fill="#000" >Glucose</text>
<line x1="1231.0" y1="613.0" x2="1275.0" y2="613.0" stroke="#000" stroke-width="3.4" stroke-linecap="butt"/>
<rect x="1244.9" y="604.9" width="16.9" height="16.7" fill="#000"/>
<text x="1288" y="622" font-size="24.4" font-weight="bold">OD<tspan font-size="14.5" dy="8">600</tspan></text>
</svg></body></html>
